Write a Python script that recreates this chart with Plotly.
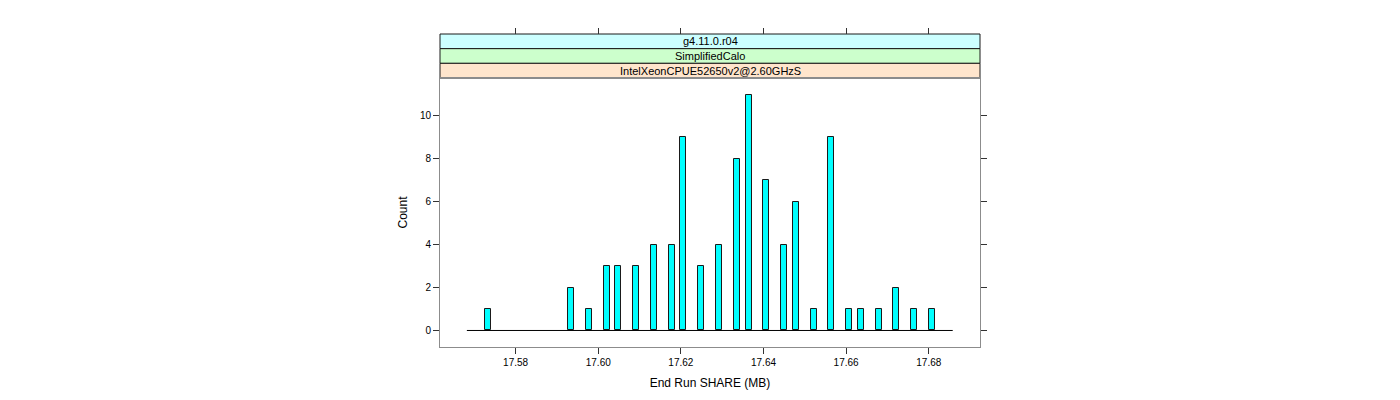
import plotly.graph_objects as go

# Histogram data (bin centres in MB, counts)
bin_centers = [17.5733, 17.5934, 17.5978, 17.6020, 17.6049, 17.6092, 17.6135, 17.6178,
               17.6206, 17.6249, 17.6292, 17.6336, 17.6364, 17.6407, 17.6450, 17.6478,
               17.6522, 17.6564, 17.6608, 17.6635, 17.6679, 17.6721, 17.6765, 17.6807]
counts = [1, 2, 1, 3, 3, 3, 4, 4, 9, 3, 4, 8, 11, 7, 4, 6, 1, 9, 1, 1, 1, 2, 1, 1]
bin_width = 0.00145
hist_range = [17.5682, 17.6858]

strip_labels = ["g4.11.0.r04", "SimplifiedCalo", "IntelXeonCPUE52650v2@2.60GHzS"]
strip_colors = ["#CCFFFF", "#CCFFCC", "#FFE5CC"]

x_ticks = [17.58, 17.60, 17.62, 17.64, 17.66, 17.68]
y_ticks = [0, 2, 4, 6, 8, 10]
x_range = [17.5617, 17.6924]
y_range = [-0.77, 11.77]

FONT = "Liberation Sans, Arial, sans-serif"
panel_top = 269 / 313

fig = go.Figure()
fig.add_trace(go.Scatter(x=hist_range, y=[0, 0], mode="lines",
                         line=dict(color="black", width=1), hoverinfo="skip",
                         showlegend=False))
fig.add_trace(go.Bar(x=bin_centers, y=counts, width=bin_width,
                     marker=dict(color="#00FFFF", line=dict(color="#1a1a1a", width=1)),
                     showlegend=False))
# invisible trace for the mirrored axes (top ticks / right ticks)
fig.add_trace(go.Scatter(x=[x_ticks[0]], y=[y_ticks[0]], xaxis="x2", yaxis="y2",
                         mode="markers", marker=dict(opacity=0), hoverinfo="skip",
                         showlegend=False))

tickfont = dict(family=FONT, size=10, color="black")
fig.update_layout(
    width=1400, height=400,
    margin=dict(l=432, r=428, t=26, b=61),
    plot_bgcolor="white", paper_bgcolor="white",
    font=dict(family=FONT, color="black"),
    xaxis=dict(range=x_range, tickvals=x_ticks, ticktext=[f"{v:.2f}" for v in x_ticks],
               ticks="outside", ticklen=6, tickcolor="#333333", showgrid=False,
               zeroline=False, showline=True, linecolor="#8c8c8c", linewidth=1,
               mirror=True, tickfont=tickfont,
               title=dict(text="End Run SHARE (MB)", font=dict(size=12, family=FONT),
                          standoff=11)),
    yaxis=dict(range=y_range, domain=[0, panel_top], tickvals=y_ticks,
               ticks="outside", ticklen=6, tickcolor="#333333", showgrid=False,
               zeroline=False, showline=True, linecolor="#8c8c8c", linewidth=1,
               mirror=True, tickfont=tickfont,
               title=dict(text="Count", font=dict(size=12, family=FONT), standoff=9)),
    xaxis2=dict(range=x_range, tickvals=x_ticks, overlaying="x", anchor="free",
                position=1, side="top", ticks="outside", ticklen=6, tickcolor="#333333",
                showticklabels=False, showgrid=False, zeroline=False, showline=False),
    yaxis2=dict(range=y_range, domain=[0, panel_top], tickvals=y_ticks, overlaying="y",
                anchor="x", side="right", ticks="outside", ticklen=6,
                tickcolor="#333333", showticklabels=False, showgrid=False,
                zeroline=False, showline=False),
    bargap=0,
)

strip_h = (1 - panel_top) / len(strip_labels)
shapes = []
annotations = []
for i, (lab, col) in enumerate(zip(strip_labels, strip_colors)):
    y1 = 1 - i * strip_h
    y0 = y1 - strip_h
    shapes.append(dict(type="rect", xref="paper", yref="paper", x0=0, x1=1, y0=y0, y1=y1,
                       fillcolor=col, line=dict(color="#1a1a1a", width=1), layer="below"))
    annotations.append(dict(xref="paper", yref="paper", x=0.5, y=(y0 + y1) / 2,
                            text=lab, showarrow=False,
                            font=dict(family=FONT, size=11, color="black"),
                            xanchor="center", yanchor="middle"))
fig.update_layout(shapes=shapes, annotations=annotations)

fig.write_html("out.html")
